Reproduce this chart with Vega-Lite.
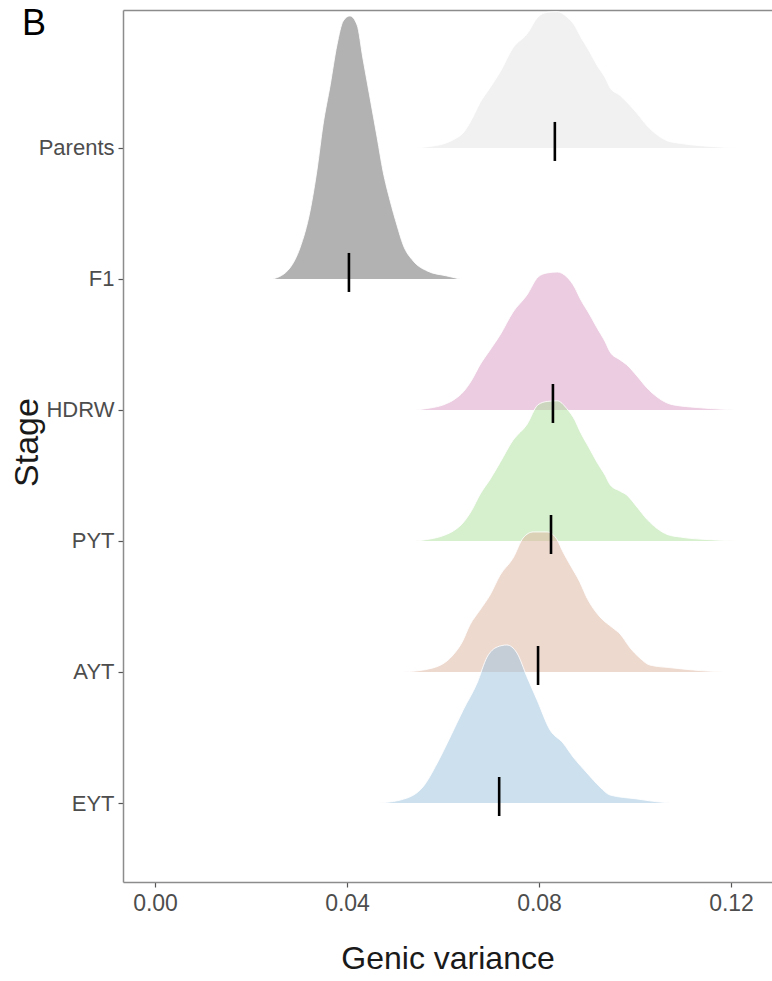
{
  "$schema": "https://vega.github.io/schema/vega-lite/v6.json",
  "width": 649,
  "height": 872,
  "autosize": {"type": "none"},
  "padding": {"left": 123, "top": 10, "right": 0, "bottom": 99},
  "background": "white",
  "title": {
    "text": "B",
    "anchor": "start",
    "frame": "group",
    "orient": "top",
    "font": "Liberation Sans",
    "fontSize": 36,
    "fontWeight": "normal",
    "color": "#000000",
    "baseline": "alphabetic",
    "offset": 0,
    "dx": -101,
    "dy": 61
  },
  "config": {
    "view": {"stroke": null},
    "axis": {
      "grid": false,
      "domainColor": "#8c8c8c",
      "domainWidth": 1.5,
      "tickColor": "#555555",
      "tickSize": 5,
      "tickWidth": 1.2,
      "labelFont": "Liberation Sans",
      "labelFontSize": 22,
      "labelColor": "#4d4d4d",
      "titleColor": "#1a1a1a",
      "titleFontWeight": "normal"
    }
  },
  "datasets": {
    "density": [
      {"stage": "Parents", "v": 0.0542, "h": 0},
      {"stage": "Parents", "v": 0.0573, "h": 0.012},
      {"stage": "Parents", "v": 0.0600, "h": 0.03},
      {"stage": "Parents", "v": 0.0625, "h": 0.07},
      {"stage": "Parents", "v": 0.0642, "h": 0.115},
      {"stage": "Parents", "v": 0.0660, "h": 0.22},
      {"stage": "Parents", "v": 0.0677, "h": 0.345},
      {"stage": "Parents", "v": 0.0698, "h": 0.46},
      {"stage": "Parents", "v": 0.0719, "h": 0.58},
      {"stage": "Parents", "v": 0.0746, "h": 0.765},
      {"stage": "Parents", "v": 0.0775, "h": 0.87},
      {"stage": "Parents", "v": 0.0798, "h": 1.0},
      {"stage": "Parents", "v": 0.0817, "h": 1.035},
      {"stage": "Parents", "v": 0.0838, "h": 1.04},
      {"stage": "Parents", "v": 0.0858, "h": 1.0},
      {"stage": "Parents", "v": 0.0875, "h": 0.93},
      {"stage": "Parents", "v": 0.0885, "h": 0.86},
      {"stage": "Parents", "v": 0.0906, "h": 0.73},
      {"stage": "Parents", "v": 0.0921, "h": 0.63},
      {"stage": "Parents", "v": 0.0938, "h": 0.535},
      {"stage": "Parents", "v": 0.0948, "h": 0.46},
      {"stage": "Parents", "v": 0.0969, "h": 0.4},
      {"stage": "Parents", "v": 0.0983, "h": 0.35},
      {"stage": "Parents", "v": 0.1004, "h": 0.265},
      {"stage": "Parents", "v": 0.1025, "h": 0.17},
      {"stage": "Parents", "v": 0.1046, "h": 0.1},
      {"stage": "Parents", "v": 0.1067, "h": 0.055},
      {"stage": "Parents", "v": 0.1094, "h": 0.035},
      {"stage": "Parents", "v": 0.1115, "h": 0.025},
      {"stage": "Parents", "v": 0.1156, "h": 0.012},
      {"stage": "Parents", "v": 0.1219, "h": 0},

      {"stage": "F1", "v": 0.0246, "h": 0},
      {"stage": "F1", "v": 0.0281, "h": 0.084},
      {"stage": "F1", "v": 0.0302, "h": 0.237},
      {"stage": "F1", "v": 0.0323, "h": 0.519},
      {"stage": "F1", "v": 0.0338, "h": 0.847},
      {"stage": "F1", "v": 0.0350, "h": 1.176},
      {"stage": "F1", "v": 0.0365, "h": 1.481},
      {"stage": "F1", "v": 0.0379, "h": 1.786},
      {"stage": "F1", "v": 0.0392, "h": 1.969},
      {"stage": "F1", "v": 0.0406, "h": 2.008},
      {"stage": "F1", "v": 0.0421, "h": 1.939},
      {"stage": "F1", "v": 0.0433, "h": 1.687},
      {"stage": "F1", "v": 0.0448, "h": 1.382},
      {"stage": "F1", "v": 0.0463, "h": 1.076},
      {"stage": "F1", "v": 0.0475, "h": 0.824},
      {"stage": "F1", "v": 0.0490, "h": 0.595},
      {"stage": "F1", "v": 0.0504, "h": 0.412},
      {"stage": "F1", "v": 0.0517, "h": 0.26},
      {"stage": "F1", "v": 0.0538, "h": 0.137},
      {"stage": "F1", "v": 0.0567, "h": 0.061},
      {"stage": "F1", "v": 0.0608, "h": 0.023},
      {"stage": "F1", "v": 0.0635, "h": 0},

      {"stage": "HDRW", "v": 0.0542, "h": 0},
      {"stage": "HDRW", "v": 0.0573, "h": 0.015},
      {"stage": "HDRW", "v": 0.0600, "h": 0.038},
      {"stage": "HDRW", "v": 0.0625, "h": 0.084},
      {"stage": "HDRW", "v": 0.0642, "h": 0.137},
      {"stage": "HDRW", "v": 0.0660, "h": 0.229},
      {"stage": "HDRW", "v": 0.0677, "h": 0.344},
      {"stage": "HDRW", "v": 0.0698, "h": 0.458},
      {"stage": "HDRW", "v": 0.0719, "h": 0.573},
      {"stage": "HDRW", "v": 0.0746, "h": 0.748},
      {"stage": "HDRW", "v": 0.0775, "h": 0.878},
      {"stage": "HDRW", "v": 0.0798, "h": 1.015},
      {"stage": "HDRW", "v": 0.0817, "h": 1.046},
      {"stage": "HDRW", "v": 0.0838, "h": 1.053},
      {"stage": "HDRW", "v": 0.0858, "h": 1.015},
      {"stage": "HDRW", "v": 0.0875, "h": 0.931},
      {"stage": "HDRW", "v": 0.0885, "h": 0.855},
      {"stage": "HDRW", "v": 0.0906, "h": 0.725},
      {"stage": "HDRW", "v": 0.0921, "h": 0.626},
      {"stage": "HDRW", "v": 0.0938, "h": 0.519},
      {"stage": "HDRW", "v": 0.0948, "h": 0.443},
      {"stage": "HDRW", "v": 0.0969, "h": 0.382},
      {"stage": "HDRW", "v": 0.0983, "h": 0.344},
      {"stage": "HDRW", "v": 0.1004, "h": 0.26},
      {"stage": "HDRW", "v": 0.1025, "h": 0.168},
      {"stage": "HDRW", "v": 0.1046, "h": 0.099},
      {"stage": "HDRW", "v": 0.1067, "h": 0.053},
      {"stage": "HDRW", "v": 0.1094, "h": 0.031},
      {"stage": "HDRW", "v": 0.1115, "h": 0.023},
      {"stage": "HDRW", "v": 0.1156, "h": 0.011},
      {"stage": "HDRW", "v": 0.1208, "h": 0},

      {"stage": "PYT", "v": 0.0542, "h": 0},
      {"stage": "PYT", "v": 0.0573, "h": 0.015},
      {"stage": "PYT", "v": 0.0600, "h": 0.04},
      {"stage": "PYT", "v": 0.0625, "h": 0.085},
      {"stage": "PYT", "v": 0.0642, "h": 0.14},
      {"stage": "PYT", "v": 0.0660, "h": 0.235},
      {"stage": "PYT", "v": 0.0677, "h": 0.355},
      {"stage": "PYT", "v": 0.0698, "h": 0.47},
      {"stage": "PYT", "v": 0.0719, "h": 0.6},
      {"stage": "PYT", "v": 0.0746, "h": 0.77},
      {"stage": "PYT", "v": 0.0775, "h": 0.89},
      {"stage": "PYT", "v": 0.0798, "h": 1.04},
      {"stage": "PYT", "v": 0.0817, "h": 1.065},
      {"stage": "PYT", "v": 0.0838, "h": 1.07},
      {"stage": "PYT", "v": 0.0858, "h": 1.01},
      {"stage": "PYT", "v": 0.0875, "h": 0.92},
      {"stage": "PYT", "v": 0.0885, "h": 0.84},
      {"stage": "PYT", "v": 0.0906, "h": 0.7},
      {"stage": "PYT", "v": 0.0921, "h": 0.6},
      {"stage": "PYT", "v": 0.0938, "h": 0.5},
      {"stage": "PYT", "v": 0.0948, "h": 0.43},
      {"stage": "PYT", "v": 0.0969, "h": 0.38},
      {"stage": "PYT", "v": 0.0983, "h": 0.35},
      {"stage": "PYT", "v": 0.1004, "h": 0.26},
      {"stage": "PYT", "v": 0.1025, "h": 0.165},
      {"stage": "PYT", "v": 0.1046, "h": 0.095},
      {"stage": "PYT", "v": 0.1067, "h": 0.05},
      {"stage": "PYT", "v": 0.1094, "h": 0.03},
      {"stage": "PYT", "v": 0.1115, "h": 0.02},
      {"stage": "PYT", "v": 0.1156, "h": 0.01},
      {"stage": "PYT", "v": 0.1208, "h": 0},

      {"stage": "AYT", "v": 0.0517, "h": 0},
      {"stage": "AYT", "v": 0.0579, "h": 0.031},
      {"stage": "AYT", "v": 0.0621, "h": 0.13},
      {"stage": "AYT", "v": 0.0640, "h": 0.229},
      {"stage": "AYT", "v": 0.0656, "h": 0.359},
      {"stage": "AYT", "v": 0.0677, "h": 0.473},
      {"stage": "AYT", "v": 0.0698, "h": 0.588},
      {"stage": "AYT", "v": 0.0719, "h": 0.74},
      {"stage": "AYT", "v": 0.0746, "h": 0.87},
      {"stage": "AYT", "v": 0.0767, "h": 1.023},
      {"stage": "AYT", "v": 0.0788, "h": 1.069},
      {"stage": "AYT", "v": 0.0817, "h": 1.069},
      {"stage": "AYT", "v": 0.0838, "h": 1.008},
      {"stage": "AYT", "v": 0.0850, "h": 0.916},
      {"stage": "AYT", "v": 0.0865, "h": 0.817},
      {"stage": "AYT", "v": 0.0885, "h": 0.687},
      {"stage": "AYT", "v": 0.0900, "h": 0.565},
      {"stage": "AYT", "v": 0.0927, "h": 0.42},
      {"stage": "AYT", "v": 0.0954, "h": 0.336},
      {"stage": "AYT", "v": 0.0969, "h": 0.29},
      {"stage": "AYT", "v": 0.0990, "h": 0.183},
      {"stage": "AYT", "v": 0.1010, "h": 0.107},
      {"stage": "AYT", "v": 0.1031, "h": 0.053},
      {"stage": "AYT", "v": 0.1079, "h": 0.031},
      {"stage": "AYT", "v": 0.1135, "h": 0.011},
      {"stage": "AYT", "v": 0.1183, "h": 0},

      {"stage": "EYT", "v": 0.0469, "h": 0},
      {"stage": "EYT", "v": 0.0525, "h": 0.038},
      {"stage": "EYT", "v": 0.0558, "h": 0.122},
      {"stage": "EYT", "v": 0.0588, "h": 0.305},
      {"stage": "EYT", "v": 0.0615, "h": 0.504},
      {"stage": "EYT", "v": 0.0642, "h": 0.71},
      {"stage": "EYT", "v": 0.0671, "h": 0.916},
      {"stage": "EYT", "v": 0.0692, "h": 1.115},
      {"stage": "EYT", "v": 0.0713, "h": 1.191},
      {"stage": "EYT", "v": 0.0733, "h": 1.206},
      {"stage": "EYT", "v": 0.0754, "h": 1.145},
      {"stage": "EYT", "v": 0.0775, "h": 0.962},
      {"stage": "EYT", "v": 0.0796, "h": 0.786},
      {"stage": "EYT", "v": 0.0823, "h": 0.557},
      {"stage": "EYT", "v": 0.0850, "h": 0.458},
      {"stage": "EYT", "v": 0.0871, "h": 0.351},
      {"stage": "EYT", "v": 0.0900, "h": 0.229},
      {"stage": "EYT", "v": 0.0927, "h": 0.122},
      {"stage": "EYT", "v": 0.0948, "h": 0.061},
      {"stage": "EYT", "v": 0.1004, "h": 0.031},
      {"stage": "EYT", "v": 0.1042, "h": 0.011},
      {"stage": "EYT", "v": 0.1073, "h": 0}
    ],
    "means": [
      {"stage": "Parents", "mean": 0.0833},
      {"stage": "F1", "mean": 0.0404},
      {"stage": "HDRW", "mean": 0.0829},
      {"stage": "PYT", "mean": 0.0825},
      {"stage": "AYT", "mean": 0.0798},
      {"stage": "EYT", "mean": 0.0717}
    ]
  },
  "resolve": {"axis": {"x": "independent"}},
  "layer": [
    {
      "data": {"name": "density"},
      "transform": [
        {"calculate": "indexof(['EYT','AYT','PYT','HDRW','F1','Parents'], datum.stage)", "as": "level"},
        {"calculate": "datum.level + datum.h", "as": "ridge"}
      ],
      "mark": {"type": "area", "interpolate": "monotone", "fillOpacity": 0.5},
      "encoding": {
        "x": {
          "field": "v", "type": "quantitative",
          "scale": {"domain": [-0.00667, 0.12854], "nice": false, "zero": false},
          "axis": {
            "orient": "bottom",
            "values": [0, 0.04, 0.08, 0.12],
            "format": ".2f",
            "labelPadding": 5,
            "labelFontSize": 23,
            "title": "Genic variance",
            "titleFont": "Liberation Sans",
            "titleFontSize": 32,
            "titlePadding": 28
          }
        },
        "y": {
          "field": "ridge", "type": "quantitative", "stack": null,
          "scale": {"domain": [-0.603, 6.053], "nice": false, "zero": false},
          "title": "Stage",
          "axis": {
            "values": [0, 1, 2, 3, 4, 5],
            "labelExpr": "['EYT','AYT','PYT','HDRW','F1','Parents'][datum.value]",
            "labelPadding": 4,
            "titleFont": "Liberation Sans",
            "titleFontSize": 34,
            "titleAngle": -90,
            "titleAlign": "center",
            "titleBaseline": "middle",
            "titleX": -96,
            "titleY": 432
          }
        },
        "y2": {"field": "level"},
        "fill": {
          "field": "stage", "type": "nominal",
          "scale": {
            "domain": ["Parents", "F1", "HDRW", "PYT", "AYT", "EYT"],
            "range": ["#e3e3e3", "#656565", "#d799c1", "#addf9b", "#ddb39f", "#9bc1dd"]
          },
          "legend": null
        }
      }
    },
    {
      "data": {"name": "density"},
      "transform": [
        {"calculate": "indexof(['EYT','AYT','PYT','HDRW','F1','Parents'], datum.stage)", "as": "level"},
        {"calculate": "datum.level + datum.h", "as": "ridge"}
      ],
      "mark": {"type": "line", "interpolate": "monotone", "stroke": "#ffffff", "strokeWidth": 1, "strokeOpacity": 0.85},
      "encoding": {
        "x": {
          "field": "v", "type": "quantitative",
          "axis": {"orient": "top", "labels": false, "ticks": false, "title": null, "values": []}
        },
        "y": {"field": "ridge", "type": "quantitative", "stack": null, "title": "Stage"},
        "detail": {"field": "stage"}
      }
    },
    {
      "data": {"name": "means"},
      "transform": [
        {"calculate": "indexof(['EYT','AYT','PYT','HDRW','F1','Parents'], datum.stage)", "as": "level"}
      ],
      "mark": {"type": "rule", "color": "#000000", "strokeWidth": 2.6, "yOffset": 13, "y2Offset": -26},
      "encoding": {
        "x": {"field": "mean", "type": "quantitative", "axis": null},
        "y": {"field": "level", "type": "quantitative", "title": "Stage"},
        "y2": {"field": "level"}
      }
    }
  ]
}
